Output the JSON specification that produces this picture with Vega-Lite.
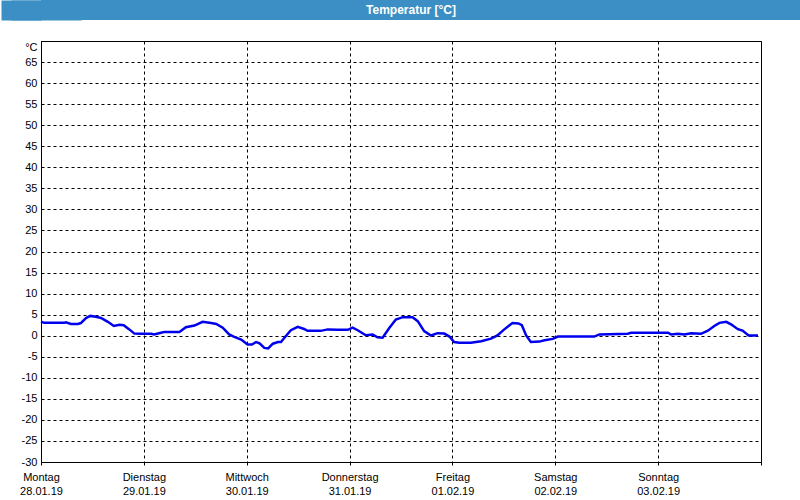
{
  "$schema": "https://vega.github.io/schema/vega-lite/v6.json",
  "padding": 0,
  "background": "white",
  "spacing": 20,
  "config": {"font": "Liberation Sans", "view": {"stroke": null}},
  "vconcat": [
    {
      "width": 760,
      "height": 20,
      "view": {"fill": "#3b8fc4", "stroke": null},
      "data": {"values": [{"title": "Temperatur [°C]"}]},
      "mark": {"type": "text", "color": "white", "fontWeight": "bold", "fontSize": 12, "font": "Liberation Sans", "baseline": "middle", "align": "center", "dx": -10},
      "encoding": {
        "text": {"field": "title", "type": "nominal"},
        "y": {"datum": 0, "type": "quantitative", "scale": {"domain": [-1, 1]},
          "axis": {"title": null, "values": [-0.6, 0, 0.6], "domain": true, "domainColor": "#3b8fc4", "domainWidth": 80, "domainCap": "butt",
            "ticks": true, "tickSize": 30, "tickWidth": 8, "tickColor": "#3b8fc4", "tickCap": "butt",
            "labels": false, "grid": false, "minExtent": 40, "maxExtent": 40}}
      }
    },
    {
      "width": 720,
      "height": 421,
      "view": {"stroke": "black", "strokeWidth": 1},
      "data": {"values": [
        {"h": 0, "t": 3.3}, {"h": 0.8, "t": 3.05}, {"h": 5.4, "t": 3.05}, {"h": 5.8, "t": 3.2}, {"h": 7.0, "t": 2.8},
        {"h": 8.6, "t": 2.8}, {"h": 9.3, "t": 3.0}, {"h": 10.5, "t": 4.2}, {"h": 11.5, "t": 4.7}, {"h": 12.8, "t": 4.5},
        {"h": 14.0, "t": 4.2}, {"h": 15.6, "t": 3.3}, {"h": 17.0, "t": 2.3}, {"h": 18.3, "t": 2.6}, {"h": 19.3, "t": 2.5},
        {"h": 20.6, "t": 1.5}, {"h": 21.8, "t": 0.5}, {"h": 23.3, "t": 0.45}, {"h": 25.7, "t": 0.45}, {"h": 26.4, "t": 0.3},
        {"h": 28.0, "t": 0.7}, {"h": 28.8, "t": 0.9}, {"h": 32.3, "t": 0.9}, {"h": 33.8, "t": 2.0}, {"h": 35.8, "t": 2.4},
        {"h": 37.7, "t": 3.3}, {"h": 39.7, "t": 3.0}, {"h": 40.9, "t": 2.8}, {"h": 42.4, "t": 1.9}, {"h": 43.9, "t": 0.3},
        {"h": 45.1, "t": -0.3}, {"h": 46.7, "t": -0.9}, {"h": 48.2, "t": -2.1}, {"h": 49.2, "t": -2.1}, {"h": 50.2, "t": -1.5},
        {"h": 51.0, "t": -1.8}, {"h": 52.1, "t": -2.9}, {"h": 53.0, "t": -3.0}, {"h": 54.1, "t": -1.9}, {"h": 55.3, "t": -1.5},
        {"h": 56.0, "t": -1.5}, {"h": 56.8, "t": -0.5}, {"h": 58.3, "t": 1.3}, {"h": 59.9, "t": 2.1}, {"h": 61.4, "t": 1.6},
        {"h": 62.2, "t": 1.15}, {"h": 65.3, "t": 1.15}, {"h": 66.9, "t": 1.5}, {"h": 69.2, "t": 1.4}, {"h": 71.6, "t": 1.4},
        {"h": 72.7, "t": 1.9}, {"h": 73.9, "t": 1.3}, {"h": 75.8, "t": 0.1}, {"h": 77.4, "t": 0.3}, {"h": 78.5, "t": -0.4},
        {"h": 79.7, "t": -0.5}, {"h": 81.3, "t": 1.9}, {"h": 82.8, "t": 3.85}, {"h": 84.4, "t": 4.4}, {"h": 86.7, "t": 4.4},
        {"h": 87.9, "t": 3.45}, {"h": 89.4, "t": 1.1}, {"h": 91.0, "t": 0.05}, {"h": 92.5, "t": 0.6}, {"h": 94.1, "t": 0.5},
        {"h": 95.3, "t": -0.2}, {"h": 96.4, "t": -1.5}, {"h": 97.6, "t": -1.7}, {"h": 100.3, "t": -1.7}, {"h": 102.7, "t": -1.3},
        {"h": 105.0, "t": -0.7}, {"h": 106.5, "t": 0.05}, {"h": 108.1, "t": 1.5}, {"h": 110.0, "t": 3.0}, {"h": 111.4, "t": 2.9},
        {"h": 112.2, "t": 2.5}, {"h": 113.2, "t": 0.05}, {"h": 114.3, "t": -1.5}, {"h": 116.3, "t": -1.4}, {"h": 117.5, "t": -1.1},
        {"h": 119.4, "t": -0.75}, {"h": 120.6, "t": -0.2}, {"h": 129.1, "t": -0.2}, {"h": 130.3, "t": 0.3}, {"h": 136.9, "t": 0.45},
        {"h": 137.7, "t": 0.7}, {"h": 146.3, "t": 0.7}, {"h": 147.0, "t": 0.3}, {"h": 148.6, "t": 0.45}, {"h": 150.1, "t": 0.3},
        {"h": 151.7, "t": 0.6}, {"h": 154.0, "t": 0.45}, {"h": 155.6, "t": 1.2}, {"h": 157.1, "t": 2.3}, {"h": 158.3, "t": 3.05},
        {"h": 159.9, "t": 3.3}, {"h": 161.0, "t": 2.7}, {"h": 162.6, "t": 1.55}, {"h": 163.7, "t": 1.2}, {"h": 165.1, "t": 0.05},
        {"h": 167.3, "t": 0.05}
      ]},
      "mark": {"type": "line", "color": "#0000ee", "strokeWidth": 2.5},
      "encoding": {
        "x": {
          "field": "h", "type": "quantitative",
          "scale": {"domain": [0, 168], "nice": false, "zero": false},
          "axis": {
            "title": null,
            "values": [0, 24, 48, 72, 96, 120, 144, 168],
            "grid": true, "gridColor": "black", "gridDash": [3, 3], "gridWidth": 1, "gridOpacity": 1,
            "domain": false,
            "ticks": true, "tickSize": 3, "tickColor": "black", "tickDash": [3, 3],
            "labelPadding": 6, "labelFontSize": 11, "labelColor": "black", "labelFont": "Liberation Sans",
            "labelLineHeight": 14, "labelOverlap": false, "labelFlush": false, "labelBaseline": "top",
            "labelExpr": "datum.value < 168 ? [['Montag','Dienstag','Mittwoch','Donnerstag','Freitag','Samstag','Sonntag'][datum.value/24], ['28.01.19','29.01.19','30.01.19','31.01.19','01.02.19','02.02.19','03.02.19'][datum.value/24]] : ''"
          }
        },
        "y": {
          "field": "t", "type": "quantitative",
          "scale": {"domain": [-30, 70], "nice": false, "zero": false},
          "axis": {
            "title": null,
            "values": [-30, -25, -20, -15, -10, -5, 0, 5, 10, 15, 20, 25, 30, 35, 40, 45, 50, 55, 60, 65, 70],
            "grid": true, "gridColor": "black", "gridDash": [3, 3], "gridWidth": 1, "gridOpacity": 1,
            "domain": false, "ticks": false,
            "labelPadding": 4, "labelFontSize": 11, "labelColor": "black", "labelFont": "Liberation Sans",
            "labelOverlap": false, "labelFlush": false,
            "labelBaseline": {"condition": {"test": "datum.value == 70", "value": "top"}, "value": "middle"},
            "labelExpr": "datum.value == 70 ? '°C' : '' + datum.value",
            "minExtent": 40, "maxExtent": 40
          }
        }
      }
    }
  ]
}
